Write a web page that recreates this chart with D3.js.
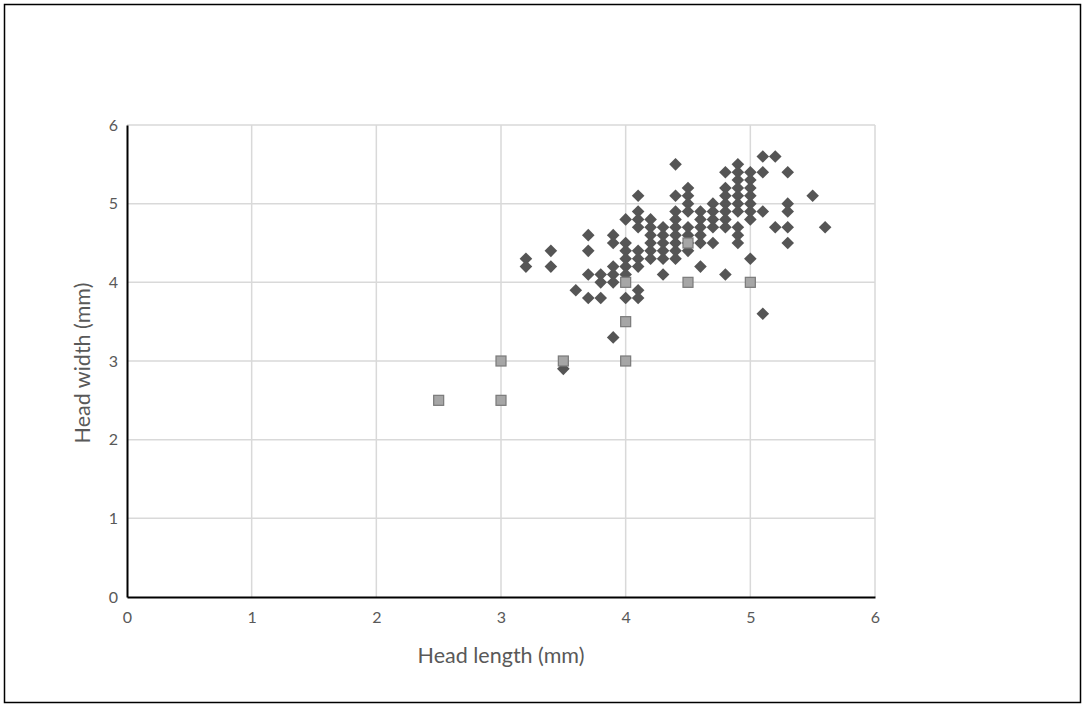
<!DOCTYPE html>
<html>
<head>
<meta charset="utf-8">
<script src="https://cdn.jsdelivr.net/npm/d3@7"></script>
<style>
  body { margin: 0; background: #fff; }
  text { font-family: Lato, "Open Sans", sans-serif; }
</style>
</head>
<body>
<div id="chart"></div>
<script>
// diamonds: head length / head width (mm)
var diamondLength = [
  3.2, 3.2,
  3.4, 3.4,
  3.5,
  3.6,
  3.7, 3.7, 3.7, 3.7,
  3.8, 3.8, 3.8,
  3.9, 3.9, 3.9, 3.9, 3.9, 3.9,
  4.0, 4.0, 4.0, 4.0, 4.0, 4.0, 4.0,
  4.1, 4.1, 4.1, 4.1, 4.1, 4.1, 4.1, 4.1, 4.1,
  4.2, 4.2, 4.2, 4.2, 4.2, 4.2,
  4.3, 4.3, 4.3, 4.3, 4.3, 4.3,
  4.4, 4.4, 4.4, 4.4, 4.4, 4.4, 4.4, 4.4, 4.4,
  4.5, 4.5, 4.5, 4.5, 4.5, 4.5, 4.5, 4.5,
  4.6, 4.6, 4.6, 4.6, 4.6, 4.6,
  4.7, 4.7, 4.7, 4.7, 4.7,
  4.8, 4.8, 4.8, 4.8, 4.8, 4.8, 4.8, 4.8,
  4.9, 4.9, 4.9, 4.9, 4.9, 4.9, 4.9, 4.9, 4.9, 4.9,
  5.0, 5.0, 5.0, 5.0, 5.0, 5.0, 5.0, 5.0,
  5.1, 5.1, 5.1, 5.1,
  5.2, 5.2,
  5.3, 5.3, 5.3, 5.3, 5.3,
  5.5,
  5.6
];
var diamondWidth = [
  4.3, 4.2,
  4.4, 4.2,
  2.9,
  3.9,
  4.6, 4.4, 4.1, 3.8,
  4.1, 4.0, 3.8,
  4.6, 4.5, 4.2, 4.1, 4.0, 3.3,
  4.8, 4.5, 4.4, 4.3, 4.2, 4.1, 3.8,
  5.1, 4.9, 4.8, 4.7, 4.4, 4.3, 4.2, 3.9, 3.8,
  4.8, 4.7, 4.6, 4.5, 4.4, 4.3,
  4.7, 4.6, 4.5, 4.4, 4.3, 4.1,
  5.5, 5.1, 4.9, 4.8, 4.7, 4.6, 4.5, 4.4, 4.3,
  5.2, 5.1, 5.0, 4.9, 4.7, 4.6, 4.5, 4.4,
  4.9, 4.8, 4.7, 4.6, 4.5, 4.2,
  5.0, 4.9, 4.8, 4.7, 4.5,
  5.4, 5.2, 5.1, 5.0, 4.9, 4.8, 4.7, 4.1,
  5.5, 5.4, 5.3, 5.2, 5.1, 5.0, 4.9, 4.7, 4.6, 4.5,
  5.4, 5.3, 5.2, 5.1, 5.0, 4.9, 4.8, 4.3,
  5.6, 5.4, 4.9, 3.6,
  5.6, 4.7,
  5.4, 5.0, 4.9, 4.7, 4.5,
  5.1,
  4.7
];

// squares
var squareLength = [2.5, 3.0, 3.0, 3.5, 4.0, 4.0, 4.0, 4.5, 4.5, 5.0];
var squareWidth  = [2.5, 2.5, 3.0, 3.0, 3.0, 3.5, 4.0, 4.0, 4.5, 4.0];

var xTicks = [0, 1, 2, 3, 4, 5, 6];
var yTicks = [0, 1, 2, 3, 4, 5, 6];
var xTitle = "Head length (mm)";
var yTitle = "Head width (mm)";

var W = 1085, H = 706;
var margin = {top: 125, right: 210, bottom: 109, left: 127},
    width = W - margin.left - margin.right,
    height = H - margin.top - margin.bottom;

var root = d3.select("#chart")
  .append("svg")
    .attr("width", W)
    .attr("height", H);

// outer frame
root.append("rect")
  .attr("x", 4.5).attr("y", 4.5)
  .attr("width", W - 9).attr("height", H - 8)
  .attr("fill", "none")
  .attr("stroke", "#000")
  .attr("stroke-width", 1.5);

var svg = root.append("g")
  .attr("transform", "translate(" + margin.left + "," + margin.top + ")");

var x = d3.scaleLinear().domain([0, 6]).range([0, width]);
var y = d3.scaleLinear().domain([0, 6]).range([height, 0]);

// gridlines
svg.append("g")
  .selectAll("line")
  .data(xTicks.slice(1))
  .join("line")
    .attr("x1", function(d) { return x(d); })
    .attr("x2", function(d) { return x(d); })
    .attr("y1", 0).attr("y2", height)
    .attr("stroke", "#d9d9d9")
    .attr("stroke-width", 1.5);

svg.append("g")
  .selectAll("line")
  .data(yTicks.slice(1))
  .join("line")
    .attr("x1", 0).attr("x2", width)
    .attr("y1", function(d) { return y(d); })
    .attr("y2", function(d) { return y(d); })
    .attr("stroke", "#d9d9d9")
    .attr("stroke-width", 1.5);

// axes
var xAxis = svg.append("g")
  .attr("transform", "translate(0," + height + ")")
  .call(d3.axisBottom(x).tickValues(xTicks).tickSize(0).tickPadding(15).tickFormat(d3.format("d")));
var yAxis = svg.append("g")
  .call(d3.axisLeft(y).tickValues(yTicks).tickSize(0).tickPadding(9).tickFormat(d3.format("d")));

[xAxis, yAxis].forEach(function(a) {
  a.select(".domain").attr("stroke", "#000").attr("stroke-width", 2);
  a.selectAll("text")
    .attr("fill", "#595959")
    .style("font-size", "16px")
    .style("font-family", "Lato, 'Open Sans', sans-serif");
});

// axis titles
svg.append("text")
  .attr("x", x(3))
  .attr("y", height + 66)
  .attr("text-anchor", "middle")
  .attr("fill", "#595959")
  .style("font-size", "21.5px")
  .text(xTitle);

svg.append("text")
  .attr("transform", "translate(" + (-37) + "," + (y(3) + 2) + ") rotate(-90)")
  .attr("text-anchor", "middle")
  .attr("fill", "#595959")
  .style("font-size", "21.5px")
  .text(yTitle);

// diamonds
var diamond = "M0,-6.3L6.3,0L0,6.3L-6.3,0Z";
svg.append("g")
  .selectAll("path")
  .data(d3.range(diamondLength.length))
  .join("path")
    .attr("d", diamond)
    .attr("transform", function(i) {
      return "translate(" + x(diamondLength[i]) + "," + y(diamondWidth[i]) + ")";
    })
    .attr("fill", "#555555");

// squares
svg.append("g")
  .selectAll("rect")
  .data(d3.range(squareLength.length))
  .join("rect")
    .attr("x", function(i) { return x(squareLength[i]) - 5; })
    .attr("y", function(i) { return y(squareWidth[i]) - 5; })
    .attr("width", 10)
    .attr("height", 10)
    .attr("fill", "#a6a6a6")
    .attr("stroke", "#7a7a7a")
    .attr("stroke-width", 1.2);
</script>
</body>
</html>
